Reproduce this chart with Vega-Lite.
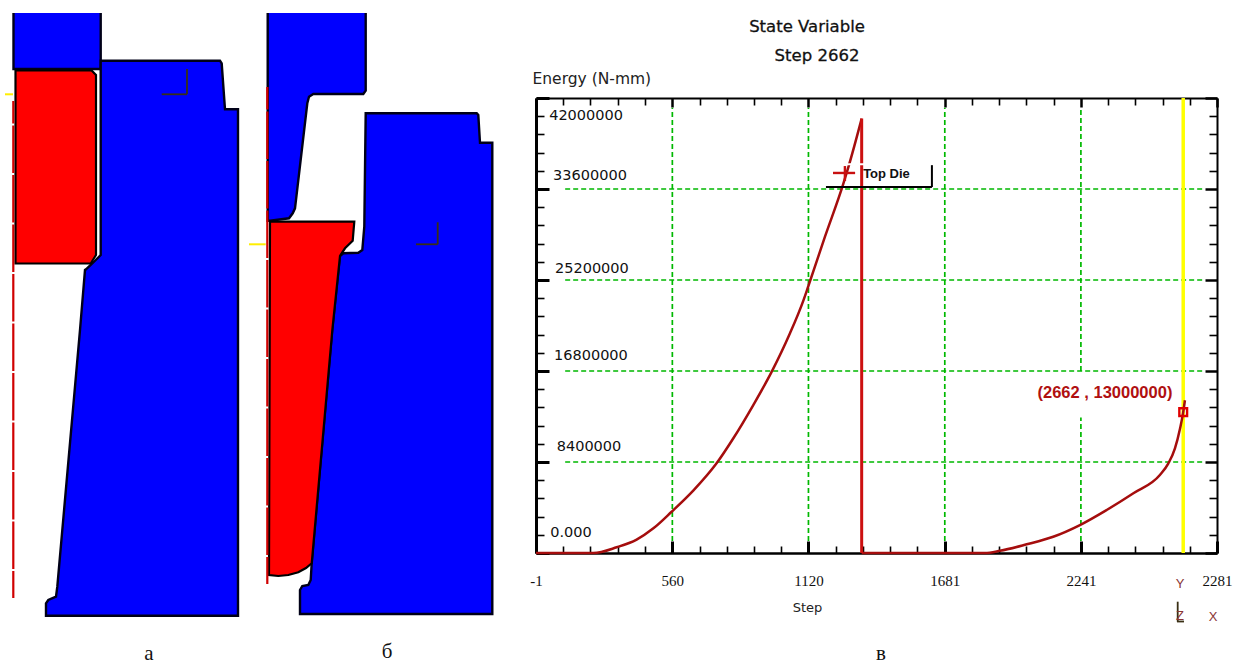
{
"$schema":"https://vega.github.io/schema/vega-lite/v6.json",
"width":1236,"height":662,"padding":0,"autosize":{"type":"none"},"background":"white",
"config":{"view":{"stroke":null}},
"datasets":{
"blue":[
{"shape":"a-top","i":1,"x":13.5,"y":5},{"shape":"a-top","i":2,"x":100.7,"y":5},{"shape":"a-top","i":3,"x":100.7,"y":69},{"shape":"a-top","i":4,"x":13.5,"y":69},
{"shape":"a-die","i":1,"x":100.7,"y":60.7},{"shape":"a-die","i":2,"x":220,"y":60.7},{"shape":"a-die","i":3,"x":221.7,"y":63.3},{"shape":"a-die","i":4,"x":225,"y":109.3},{"shape":"a-die","i":5,"x":238,"y":109.3},{"shape":"a-die","i":6,"x":238,"y":615.7},{"shape":"a-die","i":7,"x":46,"y":615.7},{"shape":"a-die","i":8,"x":46,"y":603.3},{"shape":"a-die","i":9,"x":48.3,"y":600},{"shape":"a-die","i":10,"x":56,"y":596.7},{"shape":"a-die","i":11,"x":57.3,"y":586.7},{"shape":"a-die","i":12,"x":80,"y":330},{"shape":"a-die","i":13,"x":85,"y":270},{"shape":"a-die","i":14,"x":86,"y":269.3},{"shape":"a-die","i":15,"x":90.7,"y":265},{"shape":"a-die","i":16,"x":100.7,"y":255},
{"shape":"b-top","i":1,"x":267.7,"y":5},{"shape":"b-top","i":2,"x":365.7,"y":5},{"shape":"b-top","i":3,"x":365.7,"y":90.7},{"shape":"b-top","i":4,"x":363.3,"y":94},{"shape":"b-top","i":5,"x":313.3,"y":94},{"shape":"b-top","i":6,"x":309,"y":96.7},{"shape":"b-top","i":7,"x":307.3,"y":103.3},{"shape":"b-top","i":8,"x":295,"y":208.3},{"shape":"b-top","i":9,"x":292.7,"y":213.3},{"shape":"b-top","i":10,"x":289,"y":218.3},{"shape":"b-top","i":11,"x":270,"y":220.7},{"shape":"b-top","i":12,"x":267.7,"y":220.7},
{"shape":"b-die","i":1,"x":365.7,"y":113.3},{"shape":"b-die","i":2,"x":476.7,"y":113.3},{"shape":"b-die","i":3,"x":478.3,"y":115},{"shape":"b-die","i":4,"x":480,"y":142.7},{"shape":"b-die","i":5,"x":492.3,"y":142.7},{"shape":"b-die","i":6,"x":492.3,"y":614},{"shape":"b-die","i":7,"x":300,"y":614},{"shape":"b-die","i":8,"x":300,"y":590},{"shape":"b-die","i":9,"x":302.3,"y":586},{"shape":"b-die","i":10,"x":308.3,"y":585},{"shape":"b-die","i":11,"x":310.7,"y":580},{"shape":"b-die","i":12,"x":311.7,"y":563.3},{"shape":"b-die","i":13,"x":332.3,"y":330},{"shape":"b-die","i":14,"x":340,"y":256},{"shape":"b-die","i":15,"x":343.3,"y":253.3},{"shape":"b-die","i":16,"x":358.3,"y":252.7},{"shape":"b-die","i":17,"x":362.3,"y":250},{"shape":"b-die","i":18,"x":364.3,"y":226.7}
],
"red":[
{"shape":"a","i":1,"x":15.5,"y":70.5},{"shape":"a","i":2,"x":91.7,"y":70.5},{"shape":"a","i":3,"x":96,"y":75},{"shape":"a","i":4,"x":96,"y":255},{"shape":"a","i":5,"x":90.7,"y":263.5},{"shape":"a","i":6,"x":15.5,"y":263.5},
{"shape":"b","i":1,"x":270,"y":221.7},{"shape":"b","i":2,"x":354.3,"y":221.7},{"shape":"b","i":3,"x":352.7,"y":240.7},{"shape":"b","i":4,"x":345,"y":248.3},{"shape":"b","i":5,"x":340,"y":256},{"shape":"b","i":6,"x":332.3,"y":330},{"shape":"b","i":7,"x":311.7,"y":563.3},{"shape":"b","i":8,"x":306,"y":568},{"shape":"b","i":9,"x":298.3,"y":572.3},{"shape":"b","i":10,"x":288.3,"y":575},{"shape":"b","i":11,"x":278.3,"y":576},{"shape":"b","i":12,"x":269,"y":575}
],
"mask":[{"shape":"top","i":1,"x":0,"y":0},{"shape":"top","i":2,"x":520,"y":0},{"shape":"top","i":3,"x":520,"y":12.5},{"shape":"top","i":4,"x":0,"y":12.5}],
"curve":[
{"seg":"rise","step":-1,"energy":0},{"seg":"rise","step":235,"energy":0},{"seg":"rise","step":331,"energy":526000},{"seg":"rise","step":413,"energy":1235000},{"seg":"rise","step":482,"energy":2280000},{"seg":"rise","step":557,"energy":3810000},{"seg":"rise","step":646,"energy":5760000},{"seg":"rise","step":742,"energy":8280000},{"seg":"rise","step":811,"energy":10590000},{"seg":"rise","step":893,"energy":13660000},{"seg":"rise","step":969,"energy":16740000},{"seg":"rise","step":1044,"energy":20280000},{"seg":"rise","step":1099,"energy":23300000},{"seg":"rise","step":1119,"energy":24600000},{"seg":"rise","step":1188,"energy":29200000},{"seg":"rise","step":1263,"energy":34050000},{"seg":"rise","step":1284,"energy":35600000},{"seg":"rise","step":1339,"energy":40100000},
{"seg":"second","step":1339,"energy":0},{"seg":"second","step":1846,"energy":0},{"seg":"second","step":1908,"energy":200000},{"seg":"second","step":2018,"energy":800000},{"seg":"second","step":2127,"energy":1500000},{"seg":"second","step":2237,"energy":2580000},{"seg":"second","step":2347,"energy":3970000},{"seg":"second","step":2457,"energy":5510000},{"seg":"second","step":2566,"energy":7200000},{"seg":"second","step":2601,"energy":8280000},{"seg":"second","step":2628,"energy":9660000},{"seg":"second","step":2649,"energy":11500000},{"seg":"second","step":2662,"energy":13000000},{"seg":"second","step":2669,"energy":14100000}
],
"grid":[
{"step":119,"step2":2752,"energy":33600000,"energy2":33600000},{"step":119,"step2":2752,"energy":25200000,"energy2":25200000},{"step":119,"step2":2752,"energy":16800000,"energy2":16800000},{"step":119,"step2":2752,"energy":8400000,"energy2":8400000},
{"step":560,"step2":560,"energy":1100000,"energy2":41100000},{"step":1120,"step2":1120,"energy":1100000,"energy2":41100000},{"step":1681,"step2":1681,"energy":1100000,"energy2":41100000},{"step":2241,"step2":2241,"energy":1100000,"energy2":12500000},{"step":2241,"step2":2241,"energy":16800000,"energy2":41100000}
],
"ticklabels":[
{"label":"42000000","step":205,"energy":40340000},{"label":"33600000","step":221,"energy":34800000},{"label":"25200000","step":229,"energy":26200000},{"label":"16800000","step":225,"energy":18180000},{"label":"8400000","step":217,"energy":9780000},{"label":"0.000","step":143,"energy":1850000}
]
},
"resolve":{"scale":{"x":"independent","y":"independent"}},
"layer":[
{"layer":[
{"data":{"name":"blue"},"mark":{"type":"line","interpolate":"linear-closed","fill":"#0000ff","stroke":"#000018","strokeWidth":2.4},
 "encoding":{"x":{"field":"x","type":"quantitative","axis":null,"scale":{"domain":[0,1236],"range":[0,1236],"nice":false,"zero":false}},"y":{"field":"y","type":"quantitative","axis":null,"scale":{"domain":[0,662],"range":[0,662],"nice":false,"zero":false}},"detail":{"field":"shape"},"order":{"field":"i","type":"quantitative"}}},
{"data":{"name":"red"},"mark":{"type":"line","interpolate":"linear-closed","fill":"#ff0000","stroke":"#000000","strokeWidth":2.2},
 "encoding":{"x":{"field":"x","type":"quantitative"},"y":{"field":"y","type":"quantitative"},"detail":{"field":"shape"},"order":{"field":"i","type":"quantitative"}}},
{"data":{"name":"mask"},"mark":{"type":"line","interpolate":"linear-closed","fill":"white","stroke":"white","strokeWidth":1},
 "encoding":{"x":{"field":"x","type":"quantitative"},"y":{"field":"y","type":"quantitative"},"detail":{"field":"shape"},"order":{"field":"i","type":"quantitative"}}},
{"data":{"values":[{"x":13.3,"y":101,"y2":598},{"x":267.3,"y":87,"y2":584}]},"mark":{"type":"rule","color":"#d00000","strokeWidth":2.2,"strokeDash":[47.5,2],"strokeDashOffset":25},
 "encoding":{"x":{"field":"x","type":"quantitative"},"y":{"field":"y","type":"quantitative"},"y2":{"field":"y2"}}},
{"data":{"values":[{"x":5,"x2":13,"y":94.3},{"x":249,"x2":265.7,"y":244.3}]},"mark":{"type":"rule","color":"#ffee00","strokeWidth":2},
 "encoding":{"x":{"field":"x","type":"quantitative"},"x2":{"field":"x2"},"y":{"field":"y","type":"quantitative"}}},
{"data":{"values":[{"x":161.7,"x2":187,"y":94.3,"y2":94.3},{"x":187,"x2":187,"y":69,"y2":94.3},{"x":416,"x2":437.7,"y":244.3,"y2":244.3},{"x":437.7,"x2":437.7,"y":222.3,"y2":244.3},{"x":1177.7,"x2":1177.7,"y":601.7,"y2":621.7},{"x":1177,"x2":1184,"y":621.5,"y2":621.5}]},"mark":{"type":"rule","color":"#3a3015","strokeWidth":1.8},
 "encoding":{"x":{"field":"x","type":"quantitative"},"x2":{"field":"x2"},"y":{"field":"y","type":"quantitative"},"y2":{"field":"y2"}}},
{"data":{"values":[{"t":"а","x":149,"y":654},{"t":"б","x":387,"y":652},{"t":"в","x":881,"y":654}]},"mark":{"type":"text","font":"Liberation Serif","fontSize":21,"color":"#111","align":"center","baseline":"middle"},
 "encoding":{"x":{"field":"x","type":"quantitative"},"y":{"field":"y","type":"quantitative"},"text":{"field":"t"}}},
{"data":{"values":[{"t":"State Variable","x":807,"y":27},{"t":"Step 2662","x":817,"y":56}]},"mark":{"type":"text","font":"DejaVu Sans","fontSize":16.5,"stroke":"#111","strokeWidth":0.3,"color":"#111","align":"center","baseline":"middle"},
 "encoding":{"x":{"field":"x","type":"quantitative"},"y":{"field":"y","type":"quantitative"},"text":{"field":"t"}}},
{"data":{"values":[{"t":"Y","x":1180,"y":584},{"t":"Z","x":1180,"y":616},{"t":"X","x":1213,"y":617}]},"mark":{"type":"text","font":"Liberation Sans","fontSize":13,"color":"#8a3535","align":"center","baseline":"middle"},
 "encoding":{"x":{"field":"x","type":"quantitative"},"y":{"field":"y","type":"quantitative"},"text":{"field":"t"}}}
]},
{"resolve":{"axis":{"x":"independent","y":"independent"}},
"layer":[
{"data":{"name":"grid"},"mark":{"type":"rule","color":"#00b800","strokeWidth":1.7,"strokeDash":[5,3]},
 "encoding":{"x":{"field":"step","type":"quantitative","scale":{"domain":[-1,2801],"range":[536,1217],"nice":false,"zero":false},
   "axis":{"orient":"bottom","offset":-109,"values":[111,223,335,447,672,784,896,1008,1232,1344,1456,1568,1793,1905,2017,2129,2353,2465,2577,2689],"labels":false,"domain":false,"grid":false,"title":null,"tickSize":-7,"tickWidth":1.6,"tickColor":"#000"}},
  "x2":{"field":"step2"},
  "y":{"field":"energy","type":"quantitative","scale":{"domain":[0,42000000],"range":[553,98],"nice":false,"zero":false},
   "axis":{"orient":"left","offset":-536,"values":[1680000,3360000,5040000,6720000,10080000,11760000,13440000,15120000,18480000,20160000,21840000,23520000,26880000,28560000,30240000,31920000,35280000,36960000,38640000,40320000],"labels":false,"domain":false,"grid":false,"title":null,"tickSize":-8,"tickWidth":1.6,"tickColor":"#000"}},
  "y2":{"field":"energy2"}}},
{"data":{"values":[{"step":2662}]},"mark":{"type":"rule","color":"#ffff00","strokeWidth":3.5},
 "encoding":{"x":{"field":"step","type":"quantitative","scale":{"domain":[-1,2801],"range":[536,1217],"nice":false,"zero":false},"axis":null},"y":{"datum":0,"type":"quantitative","scale":{"domain":[0,42000000],"range":[553,98],"nice":false,"zero":false},"axis":null},"y2":{"datum":42000000}}},
{"data":{"name":"curve"},"mark":{"type":"line","color":"#a50d0d","strokeWidth":2.5,"interpolate":"monotone"},
 "encoding":{"x":{"field":"step","type":"quantitative","scale":{"domain":[-1,2801],"range":[536,1217],"nice":false,"zero":false},
   "axis":{"orient":"bottom","offset":-109,"values":[-1,560,1120,1681,2241,2801],"grid":false,"tickSize":-12,"tickWidth":3,"tickColor":"#000","domain":true,"domainColor":"#000","domainWidth":2.5,"labelExpr":"datum.value==2801?'2281':datum.value==-1?'-1':datum.label","format":"d","labelFont":"Liberation Serif","labelFontSize":15,"labelColor":"#111","labelPadding":32,"labelFlush":false,"labelOverlap":false,"labelBound":false,"title":"Step","titleFont":"DejaVu Sans","titleFontSize":13,"titleFontWeight":"normal","titleColor":"#222","titleX":807,"titleY":54,"titleAlign":"center","titleBaseline":"middle"}},
  "y":{"field":"energy","type":"quantitative","scale":{"domain":[0,42000000],"range":[553,98],"nice":false,"zero":false},
   "axis":{"orient":"left","offset":-536,"values":[0,8400000,16800000,25200000,33600000,42000000],"labels":false,"grid":false,"tickSize":-13,"tickWidth":3,"tickColor":"#000","domain":true,"domainColor":"#000","domainWidth":3,"title":"Energy (N-mm)","titleFont":"DejaVu Sans","titleFontSize":15.5,"titleFontWeight":"normal","titleColor":"#222","titleAngle":0,"titleX":-4,"titleY":78,"titleAlign":"left","titleBaseline":"middle"}},
  "detail":{"field":"seg"},"order":{"field":"step","type":"quantitative"}}},
{"data":{"values":[{"step":1339,"energy":0,"energy2":40100000}]},"mark":{"type":"rule","color":"#cc1010","strokeWidth":3},
 "encoding":{"x":{"field":"step","type":"quantitative","scale":{"domain":[-1,2801],"range":[536,1217],"nice":false,"zero":false},"axis":null},"y":{"field":"energy","type":"quantitative","scale":{"domain":[0,42000000],"range":[553,98],"nice":false,"zero":false},"axis":null},"y2":{"field":"energy2"}}},
{"data":{"values":[{"step":1192,"step2":1628,"energy":35880000,"energy2":35880000}]},"mark":{"type":"rule","color":"#ffffff","strokeWidth":2},
 "encoding":{"x":{"field":"step","type":"quantitative","scale":{"domain":[-1,2801],"range":[536,1217],"nice":false,"zero":false},"axis":null},"x2":{"field":"step2"},"y":{"field":"energy","type":"quantitative","scale":{"domain":[0,42000000],"range":[553,98],"nice":false,"zero":false},"axis":null},"y2":{"field":"energy2"}}},
{"data":{"values":[{"step":1192,"step2":1628,"energy":33780000,"energy2":33780000},{"step":1628,"step2":1628,"energy":33780000,"energy2":35800000}]},"mark":{"type":"rule","color":"#000","strokeWidth":2},
 "encoding":{"x":{"field":"step","type":"quantitative","scale":{"domain":[-1,2801],"range":[536,1217],"nice":false,"zero":false},"axis":null},"x2":{"field":"step2"},"y":{"field":"energy","type":"quantitative","scale":{"domain":[0,42000000],"range":[553,98],"nice":false,"zero":false},"axis":null},"y2":{"field":"energy2"}}},
{"data":{"values":[{"step":1221,"step2":1312,"energy":35080000,"energy2":35080000},{"step":1270,"step2":1270,"energy":34340000,"energy2":35720000}]},"mark":{"type":"rule","color":"#c81010","strokeWidth":2.4},
 "encoding":{"x":{"field":"step","type":"quantitative","scale":{"domain":[-1,2801],"range":[536,1217],"nice":false,"zero":false},"axis":null},"x2":{"field":"step2"},"y":{"field":"energy","type":"quantitative","scale":{"domain":[0,42000000],"range":[553,98],"nice":false,"zero":false},"axis":null},"y2":{"field":"energy2"}}},
{"data":{"values":[{"t":"Top Die","step":1345,"energy":34980000}]},"mark":{"type":"text","font":"Liberation Sans","fontWeight":"bold","fontSize":13,"color":"#111","align":"left","baseline":"middle"},
 "encoding":{"x":{"field":"step","type":"quantitative","scale":{"domain":[-1,2801],"range":[536,1217],"nice":false,"zero":false},"axis":null},"y":{"field":"energy","type":"quantitative","scale":{"domain":[0,42000000],"range":[553,98],"nice":false,"zero":false},"axis":null},"text":{"field":"t"}}},
{"data":{"values":[{"t":"(2662 , 13000000)","step":2340,"energy":14770000}]},"mark":{"type":"text","font":"Liberation Sans","fontWeight":"bold","fontSize":16.5,"color":"#b01010","align":"center","baseline":"middle"},
 "encoding":{"x":{"field":"step","type":"quantitative","scale":{"domain":[-1,2801],"range":[536,1217],"nice":false,"zero":false},"axis":null},"y":{"field":"energy","type":"quantitative","scale":{"domain":[0,42000000],"range":[553,98],"nice":false,"zero":false},"axis":null},"text":{"field":"t"}}},
{"data":{"values":[{"step":2662,"energy":13000000}]},"mark":{"type":"point","shape":"square","size":60,"filled":false,"color":"#e00000","strokeWidth":2.4,"opacity":1},
 "encoding":{"x":{"field":"step","type":"quantitative","scale":{"domain":[-1,2801],"range":[536,1217],"nice":false,"zero":false},
   "axis":{"orient":"top","offset":-98,"values":[-1,560,1120,1681,2241,2801],"labels":false,"grid":false,"title":null,"tickSize":-9,"tickWidth":2.5,"tickColor":"#000","domain":true,"domainColor":"#000","domainWidth":2}},
  "y":{"field":"energy","type":"quantitative","scale":{"domain":[0,42000000],"range":[553,98],"nice":false,"zero":false},
   "axis":{"orient":"right","offset":-19,"values":[0,8400000,16800000,25200000,33600000,42000000],"labels":false,"grid":false,"title":null,"tickSize":-12,"tickWidth":2.5,"tickColor":"#000","domain":true,"domainColor":"#000","domainWidth":2}}}},
{"data":{"name":"ticklabels"},"mark":{"type":"text","font":"DejaVu Sans","fontSize":14.5,"color":"#111","align":"center","baseline":"middle"},
 "encoding":{"x":{"field":"step","type":"quantitative","scale":{"domain":[-1,2801],"range":[536,1217],"nice":false,"zero":false},
   "axis":{"orient":"top","offset":-98,"values":[111,223,335,447,672,784,896,1008,1232,1344,1456,1568,1793,1905,2017,2129,2353,2465,2577,2689],"labels":false,"domain":false,"grid":false,"title":null,"tickSize":-7,"tickWidth":1.6,"tickColor":"#000"}},
  "y":{"field":"energy","type":"quantitative","scale":{"domain":[0,42000000],"range":[553,98],"nice":false,"zero":false},
   "axis":{"orient":"right","offset":-19,"values":[1680000,3360000,5040000,6720000,10080000,11760000,13440000,15120000,18480000,20160000,21840000,23520000,26880000,28560000,30240000,31920000,35280000,36960000,38640000,40320000],"labels":false,"domain":false,"grid":false,"title":null,"tickSize":-8,"tickWidth":1.6,"tickColor":"#000"}},
  "text":{"field":"label"}}}
]}
]}
